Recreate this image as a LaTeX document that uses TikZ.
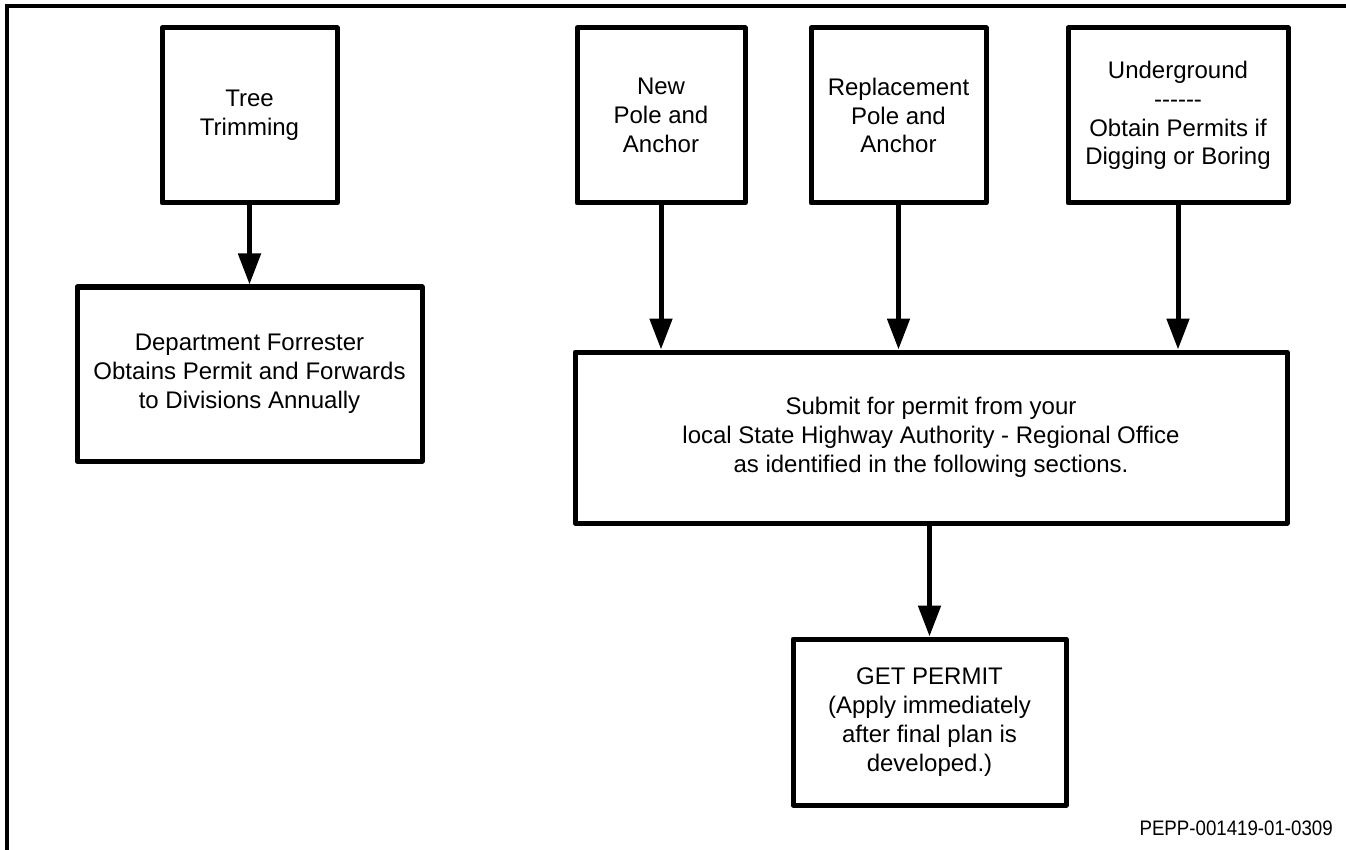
\documentclass[tikz,border=0pt]{standalone}
\usepackage{fontspec}
\setmainfont{Liberation Sans}
\newfontfamily\narrowfont[FakeStretch=0.89]{Liberation Sans}
\usetikzlibrary{arrows.meta}

\tikzset{
  box/.style={draw, line width=5pt, line join=round, fill=white,
    align=center, inner sep=0pt,
    font=\fontsize{24}{28.8}\selectfont},
  flow/.style={line width=5pt,
    -{Triangle[width=22pt,length=31pt]}},
  frameline/.style={line width=3.5pt},
}

\begin{document}
\begin{tikzpicture}[x=1pt,y=-1pt]
\useasboundingbox (0,0) rectangle (1346,850);

% page frame: top and left rules only
\draw[frameline] (1346,6) -- (7,6) -- (7,850);

% top row
\node[box, minimum width=175pt, minimum height=175pt] (tree) at (249.5,115.5)
  {Tree\\Trimming};
\node[box, minimum width=168pt, minimum height=175pt] (newpole) at (661,115.5)
  {New\\Pole and\\Anchor};
\node[box, minimum width=175pt, minimum height=175pt] (replpole) at (898.5,115.5)
  {Replacement\\Pole and\\Anchor};
\node[box, minimum width=220pt, minimum height=175pt] (under) at (1178,115.5)
  {Underground\\{-}{-}{-}{-}{-}{-}\\Obtain Permits if\\Digging or Boring};

% forrester branch
\node[box, minimum width=345pt, minimum height=174pt] (forrester) at (249.5,374)
  {Department Forrester\\Obtains Permit and Forwards\\to Divisions Annually};

% permit request
\node[box, minimum width=712pt, minimum height=171pt] (submit) at (931,437.5)
  {Submit for permit from your\\local State Highway Authority - Regional Office\\as identified in the following sections.};

\node[box, minimum width=273pt, minimum height=166pt] (getpermit) at (929.5,722)
  {GET PERMIT\\(Apply immediately\\after final plan is\\developed.)};

% connectors
\draw[flow] (tree.south) -- (forrester.north);
\draw[flow] (newpole.south) -- (newpole.south |- submit.north);
\draw[flow] (replpole.south) -- (replpole.south |- submit.north);
\draw[flow] (under.south) -- (under.south |- submit.north);
\draw[flow] (submit.south -| getpermit.north) -- (getpermit.north);

% drawing number
\node[anchor=base east, inner sep=0pt, font=\narrowfont\fontsize{21}{24}\selectfont]
  (drawno) at (1333,835) {PEPP-001419-01-0309};
\end{tikzpicture}
\end{document}
